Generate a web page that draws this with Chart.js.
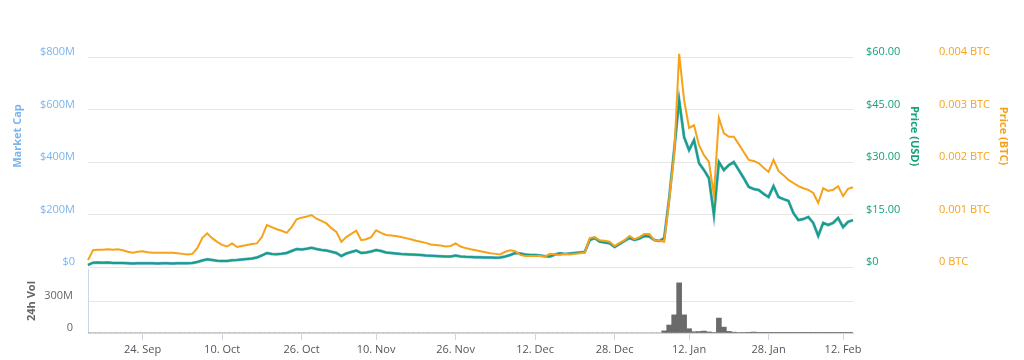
<!DOCTYPE html>
<html>
<head>
<meta charset="utf-8">
<script src="https://cdn.jsdelivr.net/npm/chart.js@4.4.1/dist/chart.umd.min.js"></script>
<style>
  body { margin: 0; background: #fff; }
  #wrap { position: relative; width: 1024px; height: 360px; }
  #wrap canvas { position: absolute; left: 0; top: 0; }
</style>
</head>
<body>
<div id="wrap">
  <canvas id="vol" width="1024" height="360"></canvas>
  <canvas id="main" width="1024" height="360"></canvas>
</div>
<script>
// one value per day, day 0 = 13 Sep 2017
const marketCap = [ // $M
  7.6,16.4,17.2,16.4,17.2,15.2,15.2,15.2,14.1,13.3,
  14.1,14.1,14.1,14.1,13.3,14.1,14.1,13.3,14.1,14.1,
  14.1,15.2,19.1,24.8,29.3,26.7,24,22.8,22.8,25.5,
  26.7,28.5,30.5,32.4,36.1,43.9,53.3,49.5,48.4,50.3,
  53.3,60.9,68.5,66.7,69.7,73.4,68.5,64.8,62.8,58.3,
  53.3,41.9,51.5,57.2,62.8,53.3,55.2,59.1,64.8,60.9,
  55.2,53.3,51.5,49.5,48.4,47.6,46.5,45.7,43.9,42.7,
  41.9,40.8,40,40,43.9,40,38.8,38.1,37.3,36.9,
  36.1,35.9,35.5,36.1,40,45.7,53.3,51.5,47.6,45.7,
  45.7,43.9,40.8,40,47.6,52.1,49.5,51.5,53.3,55.2,
  57.2,102.8,110.5,96.4,93.3,90.2,76.1,87.6,99,110.5,
  102.8,108.5,118.1,116.1,102.8,99,110.5,262.6,445.2,635.8,
  494.5,445.2,483.9,395.9,369.2,338.6,198.6,399.9,369.2,387.9,
  399.9,369.2,338.6,305.3,297.3,293.3,278.6,266.6,307.9,266.6,
  258.6,251.9,205.3,178.6,182.6,190.6,168,118.6,168,160,
  168,186.6,152,172,178.6
];
const priceUsd = [
  0.57,1.23,1.29,1.23,1.29,1.14,1.14,1.14,1.06,1.0,
  1.06,1.06,1.06,1.06,1.0,1.06,1.06,1.0,1.06,1.06,
  1.06,1.14,1.43,1.86,2.2,2.0,1.8,1.71,1.71,1.91,
  2.0,2.14,2.29,2.43,2.71,3.29,4.0,3.71,3.63,3.77,
  4.0,4.57,5.14,5.0,5.23,5.51,5.14,4.86,4.71,4.37,
  4.0,3.14,3.86,4.29,4.71,4.0,4.14,4.43,4.86,4.57,
  4.14,4.0,3.86,3.71,3.63,3.57,3.49,3.43,3.29,3.2,
  3.14,3.06,3.0,3.0,3.29,3.0,2.91,2.86,2.8,2.77,
  2.71,2.69,2.66,2.71,3.0,3.43,4.0,3.86,3.57,3.43,
  3.43,3.29,3.06,3.0,3.57,3.91,3.71,3.86,4.0,4.14,
  4.29,7.71,8.29,7.23,7.0,6.77,5.71,6.57,7.43,8.29,
  7.71,8.14,8.86,8.71,7.71,7.43,8.29,19.7,33.4,47.7,
  37.1,33.4,36.3,29.7,27.7,25.4,14.9,30.0,27.7,29.1,
  30.0,27.7,25.4,22.9,22.3,22.0,20.9,20.0,23.1,20.0,
  19.4,18.9,15.4,13.4,13.7,14.3,12.6,8.9,12.6,12.0,
  12.6,14.0,11.4,12.9,13.4
];
const priceBtc = [
  0.00013,0.00032,0.00033,0.00033,0.00034,0.00033,0.00034,0.00032,0.00029,0.00027,
  0.00029,0.0003,0.00028,0.00027,0.00027,0.00027,0.00027,0.00027,0.00026,0.00025,
  0.00024,0.00025,0.00036,0.00055,0.00064,0.00055,0.00048,0.00042,0.00039,0.00045,
  0.00038,0.0004,0.00042,0.00044,0.00045,0.00057,0.0008,0.00076,0.00072,0.00069,
  0.00065,0.00076,0.00091,0.00094,0.00096,0.00099,0.00092,0.00088,0.00083,0.00074,
  0.00067,0.00048,0.00057,0.00063,0.00069,0.00051,0.00053,0.00057,0.0007,0.00065,
  0.00061,0.0006,0.00059,0.00057,0.00055,0.00053,0.0005,0.00048,0.00046,0.00043,
  0.00042,0.00041,0.00039,0.0004,0.00045,0.00039,0.00036,0.00034,0.00032,0.0003,
  0.00028,0.00026,0.00025,0.00024,0.00029,0.00032,0.0003,0.00023,0.00021,0.00021,
  0.00021,0.00021,0.0002,0.00025,0.00024,0.00023,0.00025,0.00024,0.00025,0.00026,
  0.00027,0.00055,0.00057,0.00051,0.0005,0.00048,0.0004,0.00046,0.00051,0.00059,
  0.00053,0.00057,0.00063,0.00063,0.00051,0.0005,0.00048,0.00128,0.00213,0.00406,
  0.00318,0.00265,0.0027,0.00232,0.00213,0.002,0.00137,0.00284,0.00255,0.00248,
  0.00248,0.00234,0.00219,0.00204,0.00202,0.00198,0.00189,0.00181,0.00204,0.00183,
  0.00175,0.00166,0.0016,0.00154,0.0015,0.00147,0.00141,0.00122,0.0015,0.00145,
  0.00147,0.00154,0.00135,0.00149,0.00152
];
const volume24h = [ // $M
  0,0,0,0,0,0,0,0,0,0,
  0,0,0,0,0,0,0,0,0,0,
  0,0,0,0,0,0,0,0,0,0,
  0,0,0,0,0,0,0,0,0,0,
  0,0,0,0,0,0,0,0,0,0,
  0,0,0,0,0,0,0,0,0,0,
  0,0,0,0,0,0,0,0,0,0,
  0,0,0,0,0,0,0,0,0,0,
  0,0,0,0,0,0,0,0,0,0,
  0,0,0,0,0,0,0,0,0,0,
  0,0,0,0,0,0,0,0,0,0,
  0,0,0,0,0,0,20,75,170,470,
  170,40,12,14,18,10,4,140,55,15,
  8,5,4,3,9,3,3,2,3,2,
  2,2,2,2,2,2,2,2,3,2,
  2,2,2,2,2
];
const tickDays = [11, 27, 43, 58, 74, 90, 106, 121, 137, 152];
const tickLabels = ['24. Sep', '10. Oct', '26. Oct', '10. Nov', '26. Nov', '12. Dec', '28. Dec', '12. Jan', '28. Jan', '12. Feb'];

const mcapColor = '#7cb5ec';
const usdColor = '#16a07b';
const btcColor = '#f7a21b';
const volColor = '#6a6a6a';

Chart.defaults.font.family = '"Open Sans", sans-serif';
Chart.defaults.font.size = 11;

const toXY = arr => arr.map((v, i) => ({ x: i, y: v }));

// titles of the main panel sit above the middle of the axis, drawn by hand
const axisTitles = {
  id: 'axisTitles',
  afterDraw(chart) {
    const ctx = chart.ctx;
    const items = [
      { text: 'Market Cap', x: 18, y: 136, rot: -Math.PI / 2, color: mcapColor },
      { text: 'Price (USD)', x: 914, y: 136, rot: Math.PI / 2, color: usdColor },
      { text: 'Price (BTC)', x: 1003, y: 136, rot: Math.PI / 2, color: btcColor }
    ];
    ctx.save();
    ctx.font = 'bold 11px "Open Sans", sans-serif';
    ctx.textAlign = 'center';
    ctx.textBaseline = 'middle';
    items.forEach(t => {
      ctx.save();
      ctx.translate(t.x, t.y);
      ctx.rotate(t.rot);
      ctx.fillStyle = t.color;
      ctx.fillText(t.text, 0, 0);
      ctx.restore();
    });
    ctx.restore();
  }
};

new Chart(document.getElementById('main'), {
  type: 'line',
  data: {
    datasets: [
      { label: 'Price (BTC)', data: toXY(priceBtc), yAxisID: 'btc', borderColor: btcColor, borderWidth: 2, order: 1, clip: false },
      { label: 'Price (USD)', data: toXY(priceUsd), yAxisID: 'usd', borderColor: usdColor, borderWidth: 2, order: 2, clip: false },
      { label: 'Market Cap', data: toXY(marketCap), yAxisID: 'mcap', borderColor: mcapColor, borderWidth: 3, order: 3, clip: false }
    ]
  },
  options: {
    responsive: false,
    animation: false,
    layout: { padding: { top: 57, bottom: 93, left: 0, right: 0 } },
    elements: { point: { radius: 0 }, line: { tension: 0 } },
    plugins: { legend: { display: false }, tooltip: { enabled: false } },
    scales: {
      x: { type: 'linear', display: false, min: 0, max: 154 },
      mcap: {
        position: 'left', min: 0, max: 800,
        ticks: { stepSize: 200, color: mcapColor, padding: 13, labelOffset: -5,
                 callback: v => v ? '$' + v + 'M' : '$0' },
        grid: { color: '#e6e6e6', drawTicks: false },
        border: { display: false },
        afterFit: s => { s.width = 88; }
      },
      usd: {
        position: 'right', min: 0, max: 60,
        ticks: { stepSize: 15, color: usdColor, padding: 13, labelOffset: -5,
                 callback: v => v ? '$' + v.toFixed(2) : '$0' },
        grid: { display: false, drawTicks: false },
        border: { display: false },
        afterFit: s => { s.width = 73; }
      },
      btc: {
        position: 'right', min: 0, max: 0.004,
        ticks: { stepSize: 0.001, color: btcColor, padding: 13, labelOffset: -5,
                 callback: v => v ? v.toFixed(3) + ' BTC' : '0 BTC' },
        grid: { display: false, drawTicks: false },
        border: { display: false },
        afterFit: s => { s.width = 98; }
      }
    }
  },
  plugins: [axisTitles]
});

new Chart(document.getElementById('vol'), {
  type: 'bar',
  data: {
    datasets: [{ label: '24h Vol', data: toXY(volume24h), yAxisID: 'v', backgroundColor: volColor,
                 barPercentage: 1, categoryPercentage: 1 }]
  },
  options: {
    responsive: false,
    animation: false,
    layout: { padding: { top: 269, right: 171, left: 0, bottom: 0 } },
    plugins: { legend: { display: false }, tooltip: { enabled: false } },
    scales: {
      x: {
        type: 'linear', min: 0, max: 154, offset: false,
        afterBuildTicks: s => { s.ticks = tickDays.map(d => ({ value: d })); },
        ticks: { color: '#555', padding: 3, maxRotation: 0, autoSkip: false,
                 callback: (v, i) => tickLabels[i] },
        grid: { drawOnChartArea: false, tickLength: 7, tickColor: '#ccd6eb', offset: false },
        border: { color: '#ccd6eb' },
        afterFit: s => { s.height = 27; }
      },
      v: {
        position: 'left', min: 0, max: 600,
        ticks: { stepSize: 300, color: '#666', padding: 15, labelOffset: -5,
                 callback: v => v === 600 ? null : (v ? v + 'M' : '0') },
        grid: { drawTicks: false, color: c => c.tick && c.tick.value === 300 ? '#e6e6e6' : 'rgba(0,0,0,0)' },
        border: { color: '#ccd6eb' },
        title: { display: true, text: '24h Vol', color: '#666', font: { weight: 'bold', size: 11 },
                 padding: { top: 25, bottom: 0 } },
        afterFit: s => { s.width = 88; }
      }
    }
  }
});
</script>
</body>
</html>
